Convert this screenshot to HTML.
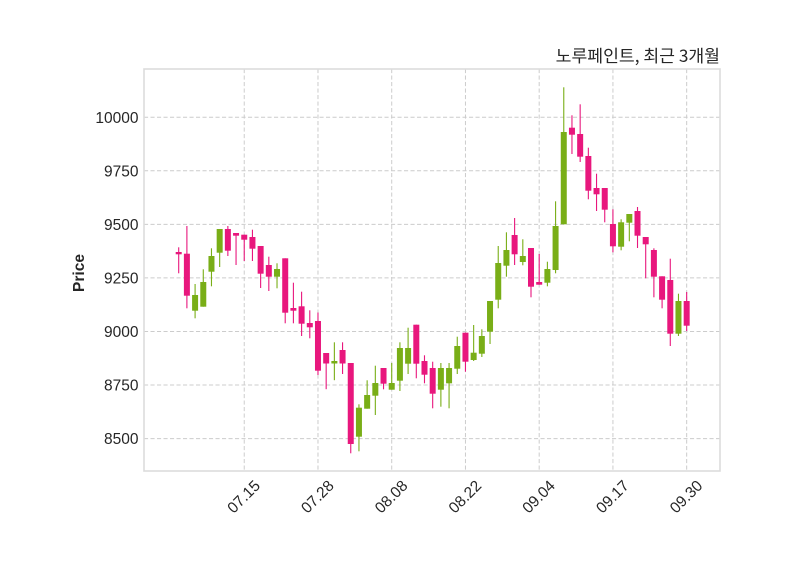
<!DOCTYPE html>
<html>
<head>
<meta charset="utf-8">
<style>
html,body{margin:0;padding:0;background:#fff;}
svg{display:block;}
</style>
</head>
<body>
<svg width="800" height="575" viewBox="0 0 800 575" xmlns="http://www.w3.org/2000/svg">
<rect x="0" y="0" width="800" height="575" fill="#fff"/>
<!-- grid -->
<g stroke="#cccccc" stroke-width="1" stroke-dasharray="4.1,2.4" fill="none">
<line x1="144" y1="117.3" x2="720" y2="117.3"/>
<line x1="144" y1="170.8" x2="720" y2="170.8"/>
<line x1="144" y1="224.4" x2="720" y2="224.4"/>
<line x1="144" y1="277.9" x2="720" y2="277.9"/>
<line x1="144" y1="331.5" x2="720" y2="331.5"/>
<line x1="144" y1="385.0" x2="720" y2="385.0"/>
<line x1="144" y1="438.6" x2="720" y2="438.6"/>
<line x1="244.24" y1="69" x2="244.24" y2="471"/>
<line x1="317.98" y1="69" x2="317.98" y2="471"/>
<line x1="391.72" y1="69" x2="391.72" y2="471"/>
<line x1="465.46" y1="69" x2="465.46" y2="471"/>
<line x1="539.19" y1="69" x2="539.19" y2="471"/>
<line x1="612.93" y1="69" x2="612.93" y2="471"/>
<line x1="686.67" y1="69" x2="686.67" y2="471"/>
</g>
<!-- frame -->
<rect x="144" y="69" width="576" height="402" fill="none" stroke="#dcdcdc" stroke-width="1.6"/>

<!-- down candles -->
<g fill="#e8177d">
<rect x="178.15" y="247.3" width="1.1" height="26"/><rect x="175.7" y="252" width="6" height="2.3"/>
<rect x="186.34" y="226" width="1.1" height="82.3"/><rect x="183.89" y="253.7" width="6" height="42"/>
<rect x="227.31" y="226" width="1.1" height="30"/><rect x="224.86" y="229" width="6" height="21.7"/>
<rect x="235.5" y="233" width="1.1" height="32"/><rect x="233.05" y="233" width="6" height="2.7"/>
<rect x="243.69" y="234.7" width="1.1" height="26.3"/><rect x="241.24" y="234.7" width="6" height="5"/>
<rect x="251.89" y="229.7" width="1.1" height="31.3"/><rect x="249.44" y="237" width="6" height="11.7"/>
<rect x="260.08" y="246" width="1.1" height="42"/><rect x="257.63" y="246" width="6" height="27.7"/>
<rect x="268.27" y="256.7" width="1.1" height="34.3"/><rect x="265.82" y="265" width="6" height="11.7"/>
<rect x="284.66" y="258.3" width="1.1" height="65"/><rect x="282.21" y="258.3" width="6" height="54.4"/>
<rect x="292.85" y="282.7" width="1.1" height="40.6"/><rect x="290.4" y="308" width="6" height="2.7"/>
<rect x="301.05" y="291.7" width="1.1" height="44.3"/><rect x="298.6" y="306.3" width="6" height="17.4"/>
<rect x="309.24" y="310.3" width="1.1" height="28"/><rect x="306.79" y="323" width="6" height="4.3"/>
<rect x="317.43" y="312.5" width="1.1" height="62.5"/><rect x="314.98" y="321" width="6" height="49.7"/>
<rect x="325.62" y="353" width="1.1" height="36.2"/><rect x="323.17" y="353" width="6" height="10.5"/>
<rect x="342.01" y="342.3" width="1.1" height="31.7"/><rect x="339.56" y="350" width="6" height="13.5"/>
<rect x="350.2" y="363" width="1.1" height="90.3"/><rect x="347.75" y="363" width="6" height="81"/>
<rect x="382.98" y="368" width="1.1" height="21.3"/><rect x="380.53" y="368" width="6" height="15.7"/>
<rect x="415.75" y="324.7" width="1.1" height="53.6"/><rect x="413.3" y="324.7" width="6" height="39"/>
<rect x="423.94" y="355.3" width="1.1" height="28"/><rect x="421.49" y="361" width="6" height="13.7"/>
<rect x="432.13" y="361.7" width="1.1" height="46.6"/><rect x="429.68" y="368" width="6" height="25.7"/>
<rect x="464.91" y="332.7" width="1.1" height="39"/><rect x="462.46" y="332.7" width="6" height="29"/>
<rect x="514.06" y="218" width="1.1" height="47"/><rect x="511.61" y="235" width="6" height="19.3"/>
<rect x="530.45" y="248" width="1.1" height="49.3"/><rect x="528" y="248" width="6" height="38.7"/>
<rect x="538.64" y="254" width="1.1" height="30.7"/><rect x="536.19" y="282" width="6" height="2.7"/>
<rect x="571.41" y="115.3" width="1.1" height="38.7"/><rect x="568.96" y="127.7" width="6" height="7"/>
<rect x="579.61" y="104.3" width="1.1" height="57.7"/><rect x="577.16" y="134" width="6" height="22.7"/>
<rect x="587.8" y="147.7" width="1.1" height="51.6"/><rect x="585.35" y="156" width="6" height="34.7"/>
<rect x="595.99" y="173.7" width="1.1" height="37.3"/><rect x="593.54" y="188" width="6" height="6.3"/>
<rect x="604.19" y="188" width="1.1" height="34.3"/><rect x="601.74" y="188" width="6" height="21.7"/>
<rect x="612.38" y="209.3" width="1.1" height="43"/><rect x="609.93" y="224" width="6" height="22.3"/>
<rect x="636.96" y="207" width="1.1" height="41"/><rect x="634.51" y="211" width="6" height="24.7"/>
<rect x="645.15" y="237" width="1.1" height="41.3"/><rect x="642.7" y="237" width="6" height="7.3"/>
<rect x="653.34" y="248.3" width="1.1" height="49"/><rect x="650.89" y="250" width="6" height="26.7"/>
<rect x="661.54" y="276.3" width="1.1" height="32"/><rect x="659.09" y="276.3" width="6" height="23.4"/>
<rect x="669.73" y="258.7" width="1.1" height="87.3"/><rect x="667.28" y="280" width="6" height="53.7"/>
<rect x="686.12" y="292" width="1.1" height="39"/><rect x="683.67" y="301" width="6" height="24.7"/>
</g>

<!-- up candles -->
<g fill="#79ae17">
<rect x="194.54" y="284" width="1.1" height="34.3"/><rect x="192.09" y="295" width="6" height="15.7"/>
<rect x="202.73" y="269.3" width="1.1" height="37.4"/><rect x="200.28" y="282" width="6" height="24.7"/>
<rect x="210.92" y="248.3" width="1.1" height="38"/><rect x="208.47" y="256" width="6" height="15.7"/>
<rect x="219.12" y="229" width="1.1" height="38"/><rect x="216.67" y="229" width="6" height="23.7"/>
<rect x="276.47" y="263.3" width="1.1" height="25"/><rect x="274.02" y="269" width="6" height="7.7"/>
<rect x="333.82" y="342.3" width="1.1" height="37.9"/><rect x="331.37" y="361" width="6" height="2.5"/>
<rect x="358.4" y="404.3" width="1.1" height="47"/><rect x="355.95" y="407.7" width="6" height="29"/>
<rect x="366.59" y="380.3" width="1.1" height="28.4"/><rect x="364.14" y="395" width="6" height="13.7"/>
<rect x="374.78" y="365.7" width="1.1" height="49.3"/><rect x="372.33" y="383" width="6" height="12.7"/>
<rect x="391.17" y="363" width="1.1" height="26.7"/><rect x="388.72" y="383" width="6" height="6.7"/>
<rect x="399.36" y="342.3" width="1.1" height="48.7"/><rect x="396.91" y="348" width="6" height="32.7"/>
<rect x="407.55" y="327.7" width="1.1" height="46.3"/><rect x="405.1" y="348" width="6" height="15.7"/>
<rect x="440.33" y="363" width="1.1" height="43.7"/><rect x="437.88" y="368" width="6" height="21.7"/>
<rect x="448.52" y="363" width="1.1" height="45.3"/><rect x="446.07" y="368" width="6" height="15.3"/>
<rect x="456.71" y="336.7" width="1.1" height="37.3"/><rect x="454.26" y="346" width="6" height="22.7"/>
<rect x="473.1" y="325" width="1.1" height="36"/><rect x="470.65" y="352.7" width="6" height="7.3"/>
<rect x="481.29" y="329.3" width="1.1" height="27.7"/><rect x="478.84" y="336" width="6" height="17.7"/>
<rect x="489.48" y="301" width="1.1" height="43"/><rect x="487.03" y="301" width="6" height="30.7"/>
<rect x="497.68" y="246" width="1.1" height="62.3"/><rect x="495.23" y="263" width="6" height="36.7"/>
<rect x="505.87" y="232.3" width="1.1" height="44.4"/><rect x="503.42" y="250" width="6" height="15.7"/>
<rect x="522.26" y="239.3" width="1.1" height="26"/><rect x="519.81" y="256" width="6" height="6"/>
<rect x="546.84" y="261.7" width="1.1" height="24.6"/><rect x="544.39" y="269" width="6" height="13.7"/>
<rect x="555.03" y="201.3" width="1.1" height="72"/><rect x="552.58" y="226" width="6" height="44"/>
<rect x="563.22" y="87.3" width="1.1" height="137"/><rect x="560.77" y="132" width="6" height="92.3"/>
<rect x="620.57" y="219.3" width="1.1" height="31"/><rect x="618.12" y="222.3" width="6" height="24.4"/>
<rect x="628.77" y="214" width="1.1" height="27.3"/><rect x="626.32" y="214" width="6" height="8.7"/>
<rect x="677.92" y="293.7" width="1.1" height="42.3"/><rect x="675.47" y="301" width="6" height="32.7"/>
</g>

<!-- y tick labels -->
<g font-family="Liberation Sans, Arial, sans-serif" font-size="15.5" fill="#262626" text-anchor="end">
<text x="138.5" y="122.8">10000</text>
<text x="138.5" y="176.3">9750</text>
<text x="138.5" y="229.9">9500</text>
<text x="138.5" y="283.4">9250</text>
<text x="138.5" y="337.0">9000</text>
<text x="138.5" y="390.5">8750</text>
<text x="138.5" y="444.1">8500</text>
</g>

<!-- x tick labels -->
<g font-family="Liberation Sans, Arial, sans-serif" font-size="15.5" fill="#262626" text-anchor="middle">
<text transform="translate(243.5,496.5) rotate(-45)" y="5.5">07.15</text>
<text transform="translate(317.2,496.5) rotate(-45)" y="5.5">07.28</text>
<text transform="translate(391.0,496.5) rotate(-45)" y="5.5">08.08</text>
<text transform="translate(464.7,496.5) rotate(-45)" y="5.5">08.22</text>
<text transform="translate(538.4,496.5) rotate(-45)" y="5.5">09.04</text>
<text transform="translate(612.2,496.5) rotate(-45)" y="5.5">09.17</text>
<text transform="translate(685.9,496.5) rotate(-45)" y="5.5">09.30</text>
</g>

<!-- y axis label -->
<text transform="translate(84,273) rotate(-90)" font-family="Liberation Sans, Arial, sans-serif" font-size="15.5" font-weight="bold" fill="#262626" text-anchor="middle">Price</text>

<!-- title -->
<text x="720" y="62" font-family="'Noto Sans CJK KR', 'NanumGothic', sans-serif" font-size="17.2" fill="#262626" text-anchor="end">노루페인트, 최근 3개월</text>
</svg>
</body>
</html>
